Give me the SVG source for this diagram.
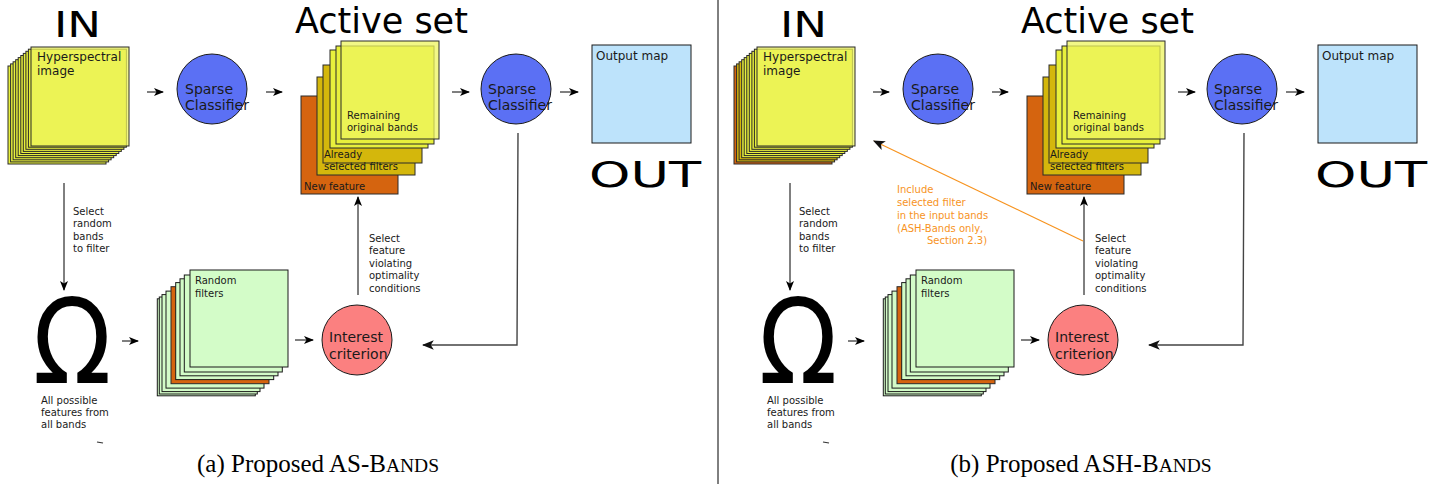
<svg xmlns="http://www.w3.org/2000/svg" width="1443" height="484" viewBox="0 0 1443 484">
<style>
text{font-family:"DejaVu Sans","Liberation Sans",sans-serif;fill:#1a1a1a}
.big{font-size:35px;fill:#000}
.lbl12{font-size:12px}
.lbl10{font-size:10px}
.lbl14{font-size:14px}
.cap{font-family:"Liberation Serif","DejaVu Serif",serif;font-size:25px;fill:#000}
.sc{font-size:19.5px}
.ly{fill:#e8f03c;stroke:#2a2a2a;stroke-width:1}
.dy{fill:#d4b70c;stroke:#2a2a2a;stroke-width:1}
.or{fill:#d5640f;stroke:#2a2a2a;stroke-width:1}
.gr{fill:#d3fcc8;stroke:#1a1a1a;stroke-width:1}
.front{fill:#eef45e;fill-opacity:0.75;stroke:#2a2a2a;stroke-width:1}
.con{stroke:#000;stroke-width:1;fill:none}
.loop{stroke:#444;stroke-width:1.4;fill:none}
.orc{stroke:#f7931e;stroke-width:1.2;fill:none}
.ot{fill:#f7931e;font-size:10px}
</style>
<defs>
<marker id="ah" viewBox="0 0 10 8" refX="9" refY="4" markerWidth="10" markerHeight="8" markerUnits="userSpaceOnUse" orient="auto">
<path d="M0,0 L10,4 L0,8 L2.5,4 z" fill="#000"/>
</marker>
<marker id="aho" viewBox="0 0 10 8" refX="9" refY="4" markerWidth="12" markerHeight="10" markerUnits="userSpaceOnUse" orient="auto">
<path d="M0,0 L10,4 L0,8 L2.5,4 z" fill="#111"/>
</marker>
</defs>
<rect width="1443" height="484" fill="#fff"/>
<line x1="718" y1="0" x2="718" y2="484" stroke="#000" stroke-width="1"/>

<!-- ========== LEFT PANEL ========== -->
<g id="a-in-title"><text class="big" x="54" y="37" font-size="33" textLength="47" lengthAdjust="spacingAndGlyphs">IN</text></g>
<g id="a-hyperspectral">
<rect class="ly" x="8" y="66" width="98" height="98"/>
<rect class="ly" x="10.6" y="63.9" width="98" height="98"/>
<rect class="ly" x="13.1" y="61.8" width="98" height="98"/>
<rect class="ly" x="15.7" y="59.7" width="98" height="98"/>
<rect class="ly" x="18.2" y="57.6" width="98" height="98"/>
<rect class="ly" x="20.8" y="55.5" width="98" height="98"/>
<rect class="ly" x="23.3" y="53.4" width="98" height="98"/>
<rect class="ly" x="25.9" y="51.3" width="98" height="98"/>
<rect class="ly" x="28.4" y="49.2" width="98" height="98"/>
<rect class="front" x="31" y="47" width="98" height="99"/>
<text class="lbl12" x="37" y="61">Hyperspectral</text>
<text class="lbl12" x="37" y="75">image</text>
</g>
<g id="a-classifier1">
<circle cx="212" cy="89" r="35" fill="#5b70f4" stroke="#1a1a1a" stroke-width="1"/>
<text class="lbl14" x="185" y="94">Sparse</text>
<text class="lbl14" x="185" y="110">Classifier</text>
</g>
<g id="a-activeset">
<text class="big" x="295" y="33" font-size="36">Active set</text>
<rect class="or" x="301" y="96" width="97" height="98"/>
<rect class="dy" x="317" y="77" width="98" height="98"/>
<rect class="dy" x="323" y="65" width="99" height="98"/>
<rect class="ly" x="330" y="50" width="98" height="98"/>
<rect class="ly" x="336" y="46" width="98" height="98"/>
<rect class="front" x="341" y="41" width="98" height="98"/>
<text class="lbl10" x="347" y="119">Remaining</text>
<text class="lbl10" x="347" y="131">original bands</text>
<text class="lbl10" x="324" y="158">Already</text>
<text class="lbl10" x="324" y="170">selected filters</text>
<text class="lbl10" x="304" y="190">New feature</text>
</g>
<g id="a-classifier2">
<circle cx="516" cy="89" r="35" fill="#5b70f4" stroke="#1a1a1a" stroke-width="1"/>
<text class="lbl14" x="488" y="94">Sparse</text>
<text class="lbl14" x="488" y="110">Classifier</text>
</g>
<g id="a-output">
<rect x="592" y="45" width="99" height="98" fill="#bde3fb" stroke="#1a1a1a" stroke-width="1"/>
<text class="lbl12" x="596" y="60">Output map</text>
<text class="big" x="589" y="187" font-size="34" textLength="112" lengthAdjust="spacingAndGlyphs">OUT</text>
</g>
<g id="a-omega">
<text transform="translate(72,383) scale(0.88,1)" text-anchor="middle" font-size="117" style="fill:#000">Ω</text>
<text class="lbl10" x="41" y="404">All possible</text>
<text class="lbl10" x="41" y="416">features from</text>
<text class="lbl10" x="41" y="428">all bands</text>
<line x1="97" y1="442" x2="103" y2="443" stroke="#333" stroke-width="1.2"/>
</g>
<g id="a-random">
<rect class="gr" x="157.3" y="298.8" width="98" height="97"/>
<rect class="gr" x="159.3" y="297" width="98" height="97"/>
<rect class="gr" x="162" y="294.6" width="98" height="97"/>
<rect class="gr" x="166" y="291.1" width="98" height="97"/>
<rect class="or" x="171" y="286.7" width="98" height="97"/>
<rect class="gr" x="175.7" y="282.6" width="98" height="97"/>
<rect class="gr" x="180" y="278.8" width="98" height="97"/>
<rect class="gr" x="184.3" y="275" width="98" height="97"/>
<rect class="gr" x="190" y="270" width="98" height="97"/>
<text class="lbl10" x="195" y="284">Random</text>
<text class="lbl10" x="195" y="297">filters</text>
</g>
<g id="a-interest">
<circle cx="357" cy="340" r="35" fill="#fb8080" stroke="#1a1a1a" stroke-width="1"/>
<text class="lbl14" x="329" y="342">Interest</text>
<text class="lbl14" x="329" y="359">criterion</text>
</g>
<g id="a-labels">
<text class="lbl10" x="73" y="215">Select</text>
<text class="lbl10" x="73" y="227">random</text>
<text class="lbl10" x="73" y="240">bands</text>
<text class="lbl10" x="73" y="252">to filter</text>
<text class="lbl10" x="369" y="242">Select</text>
<text class="lbl10" x="369" y="254">feature</text>
<text class="lbl10" x="369" y="267">violating</text>
<text class="lbl10" x="369" y="279">optimality</text>
<text class="lbl10" x="369" y="292">conditions</text>
</g>
<g id="a-connectors">
<line class="con" x1="147" y1="92" x2="163" y2="92" marker-end="url(#ah)"/>
<line class="con" x1="266" y1="92" x2="282" y2="92" marker-end="url(#ah)"/>
<line class="con" x1="452" y1="92" x2="469" y2="92" marker-end="url(#ah)"/>
<line class="con" x1="560" y1="92" x2="578" y2="92" marker-end="url(#ah)"/>
<line class="con" x1="64" y1="183" x2="64" y2="290" marker-end="url(#ah)"/>
<line class="con" x1="122" y1="341" x2="138" y2="341" marker-end="url(#ah)"/>
<line class="con" x1="295" y1="340" x2="313" y2="340" marker-end="url(#ah)"/>
<line class="con" x1="358" y1="295" x2="358" y2="197" marker-end="url(#ah)"/>
<polyline class="loop" points="518,133 517,345 423,345" marker-end="url(#aho)"/>
</g>
<g id="a-caption">
<text class="cap" x="318" y="472" text-anchor="middle">(a) Proposed AS-B<tspan class="sc">ANDS</tspan></text>
</g>

<!-- ========== RIGHT PANEL ========== -->
<g id="b-in-title"><text class="big" x="780" y="37" font-size="33" textLength="47" lengthAdjust="spacingAndGlyphs">IN</text></g>
<g id="b-hyperspectral" transform="translate(726,0)">
<rect class="or" x="8" y="66" width="98" height="98"/>
<rect class="dy" x="10.6" y="63.9" width="98" height="98"/>
<rect class="dy" x="13.1" y="61.8" width="98" height="98"/>
<rect class="ly" x="15.7" y="59.7" width="98" height="98"/>
<rect class="ly" x="18.2" y="57.6" width="98" height="98"/>
<rect class="ly" x="20.8" y="55.5" width="98" height="98"/>
<rect class="ly" x="23.3" y="53.4" width="98" height="98"/>
<rect class="ly" x="25.9" y="51.3" width="98" height="98"/>
<rect class="ly" x="28.4" y="49.2" width="98" height="98"/>
<rect class="front" x="31" y="47" width="98" height="99"/>
<text class="lbl12" x="37" y="61">Hyperspectral</text>
<text class="lbl12" x="37" y="75">image</text>
</g>
<g id="b-classifier1" transform="translate(726,0)">
<circle cx="212" cy="89" r="35" fill="#5b70f4" stroke="#1a1a1a" stroke-width="1"/>
<text class="lbl14" x="185" y="94">Sparse</text>
<text class="lbl14" x="185" y="110">Classifier</text>
</g>
<g id="b-activeset" transform="translate(726,0)">
<text class="big" x="295" y="33" font-size="36">Active set</text>
<rect class="or" x="301" y="96" width="97" height="98"/>
<rect class="dy" x="317" y="77" width="98" height="98"/>
<rect class="dy" x="323" y="65" width="99" height="98"/>
<rect class="ly" x="330" y="50" width="98" height="98"/>
<rect class="ly" x="336" y="46" width="98" height="98"/>
<rect class="front" x="341" y="41" width="98" height="98"/>
<text class="lbl10" x="347" y="119">Remaining</text>
<text class="lbl10" x="347" y="131">original bands</text>
<text class="lbl10" x="324" y="158">Already</text>
<text class="lbl10" x="324" y="170">selected filters</text>
<text class="lbl10" x="304" y="190">New feature</text>
</g>
<g id="b-classifier2" transform="translate(726,0)">
<circle cx="516" cy="89" r="35" fill="#5b70f4" stroke="#1a1a1a" stroke-width="1"/>
<text class="lbl14" x="488" y="94">Sparse</text>
<text class="lbl14" x="488" y="110">Classifier</text>
</g>
<g id="b-output" transform="translate(726,0)">
<rect x="592" y="45" width="99" height="98" fill="#bde3fb" stroke="#1a1a1a" stroke-width="1"/>
<text class="lbl12" x="596" y="60">Output map</text>
<text class="big" x="589" y="187" font-size="34" textLength="112" lengthAdjust="spacingAndGlyphs">OUT</text>
</g>
<g id="b-omega" transform="translate(726,0)">
<text transform="translate(72,383) scale(0.88,1)" text-anchor="middle" font-size="117" style="fill:#000">Ω</text>
<text class="lbl10" x="41" y="404">All possible</text>
<text class="lbl10" x="41" y="416">features from</text>
<text class="lbl10" x="41" y="428">all bands</text>
<line x1="97" y1="442" x2="103" y2="443" stroke="#333" stroke-width="1.2"/>
</g>
<g id="b-random" transform="translate(726,0)">
<rect class="gr" x="157.3" y="298.8" width="98" height="97"/>
<rect class="gr" x="159.3" y="297" width="98" height="97"/>
<rect class="gr" x="162" y="294.6" width="98" height="97"/>
<rect class="gr" x="166" y="291.1" width="98" height="97"/>
<rect class="or" x="171" y="286.7" width="98" height="97"/>
<rect class="gr" x="175.7" y="282.6" width="98" height="97"/>
<rect class="gr" x="180" y="278.8" width="98" height="97"/>
<rect class="gr" x="184.3" y="275" width="98" height="97"/>
<rect class="gr" x="190" y="270" width="98" height="97"/>
<text class="lbl10" x="195" y="284">Random</text>
<text class="lbl10" x="195" y="297">filters</text>
</g>
<g id="b-interest" transform="translate(726,0)">
<circle cx="357" cy="340" r="35" fill="#fb8080" stroke="#1a1a1a" stroke-width="1"/>
<text class="lbl14" x="329" y="342">Interest</text>
<text class="lbl14" x="329" y="359">criterion</text>
</g>
<g id="b-labels">
<g transform="translate(726,0)">
<text class="lbl10" x="73" y="215">Select</text>
<text class="lbl10" x="73" y="227">random</text>
<text class="lbl10" x="73" y="240">bands</text>
<text class="lbl10" x="73" y="252">to filter</text>
<text class="lbl10" x="369" y="242">Select</text>
<text class="lbl10" x="369" y="254">feature</text>
<text class="lbl10" x="369" y="267">violating</text>
<text class="lbl10" x="369" y="279">optimality</text>
<text class="lbl10" x="369" y="292">conditions</text>
</g>
<text class="ot" x="897" y="193">Include</text>
<text class="ot" x="897" y="206">selected filter</text>
<text class="ot" x="897" y="219">in the input bands</text>
<text class="ot" x="897" y="232">(ASH-Bands only,</text>
<text class="ot" x="927" y="244">Section 2.3)</text>
</g>
<g id="b-connectors">
<g transform="translate(726,0)">
<line class="con" x1="147" y1="92" x2="163" y2="92" marker-end="url(#ah)"/>
<line class="con" x1="266" y1="92" x2="282" y2="92" marker-end="url(#ah)"/>
<line class="con" x1="452" y1="92" x2="469" y2="92" marker-end="url(#ah)"/>
<line class="con" x1="560" y1="92" x2="578" y2="92" marker-end="url(#ah)"/>
<line class="con" x1="64" y1="183" x2="64" y2="290" marker-end="url(#ah)"/>
<line class="con" x1="122" y1="341" x2="138" y2="341" marker-end="url(#ah)"/>
<line class="con" x1="295" y1="340" x2="313" y2="340" marker-end="url(#ah)"/>
<line class="con" x1="358" y1="295" x2="358" y2="197" marker-end="url(#ah)"/>
<polyline class="loop" points="518,133 517,345 423,345" marker-end="url(#aho)"/>
</g>
<line class="orc" x1="1083" y1="241" x2="874" y2="141" marker-end="url(#aho)"/>
</g>
<g id="b-caption">
<text class="cap" x="1081" y="472" text-anchor="middle">(b) Proposed ASH-B<tspan class="sc">ANDS</tspan></text>
</g>
</svg>
